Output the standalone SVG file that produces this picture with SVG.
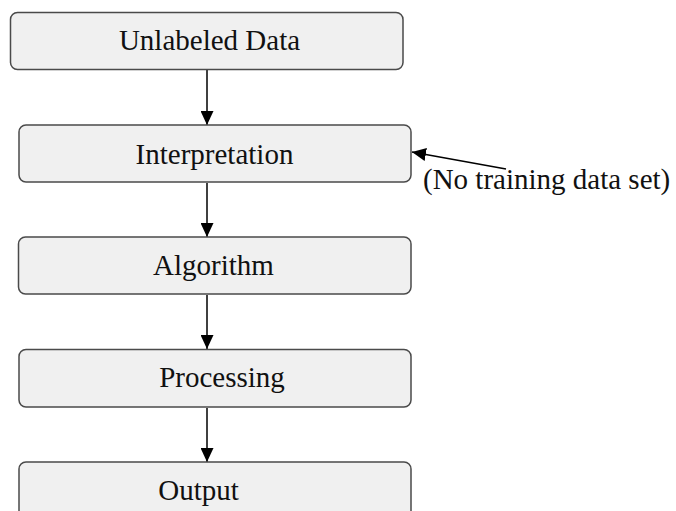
<svg xmlns="http://www.w3.org/2000/svg" width="676" height="511" viewBox="0 0 676 511">
<style>
.box{fill:#f0f0f0;stroke:#4a4a4a;stroke-width:1.5}
.lbl{font-family:"Liberation Serif","Times New Roman",serif;font-size:29px;fill:#111}
.mid{text-anchor:middle}
.con{stroke:#000;stroke-width:1.5;fill:none}
</style>
<defs>
<marker id="ah" markerWidth="10" markerHeight="10" viewBox="0 0 10 10" refX="10" refY="5" orient="auto" markerUnits="userSpaceOnUse">
<path d="M0,0 L10,5 L0,10 Z" fill="#000"/>
</marker>
<marker id="ahb" markerWidth="14" markerHeight="13" viewBox="0 0 14 13" refX="14" refY="6.5" orient="auto" markerUnits="userSpaceOnUse">
<path d="M0,0 L14,6.5 L0,13 Z" fill="#000"/>
</marker>
</defs>
<rect width="676" height="511" fill="#fff"/>
<g id="connectors">
<line class="con" x1="207" y1="70" x2="207" y2="125" marker-end="url(#ahb)"/>
<line class="con" x1="207" y1="183" x2="207" y2="237" marker-end="url(#ahb)"/>
<line class="con" x1="207" y1="295" x2="207" y2="349" marker-end="url(#ahb)"/>
<line class="con" x1="207" y1="408" x2="207" y2="462" marker-end="url(#ahb)"/>
<line class="con" x1="506" y1="169" x2="412" y2="152" marker-end="url(#ahb)"/>
</g>
<g id="n1"><rect class="box" x="10.5" y="12.5" width="392.5" height="57" rx="7"/><text class="lbl mid" x="209.5" y="50">Unlabeled Data</text></g>
<g id="n2"><rect class="box" x="19" y="125" width="392" height="57" rx="7"/><text class="lbl mid" x="214.5" y="164">Interpretation</text></g>
<g id="n3"><rect class="box" x="18.5" y="237" width="392.5" height="57" rx="7"/><text class="lbl mid" x="213.5" y="275">Algorithm</text></g>
<g id="n4"><rect class="box" x="19" y="349.5" width="392" height="57.5" rx="7"/><text class="lbl mid" x="222" y="387">Processing</text></g>
<g id="n5"><rect class="box" x="19" y="462" width="392" height="60" rx="7"/><text class="lbl mid" x="198.5" y="500">Output</text></g>
<g id="note"><text class="lbl" x="423" y="189">(No training data set)</text></g>
</svg>
